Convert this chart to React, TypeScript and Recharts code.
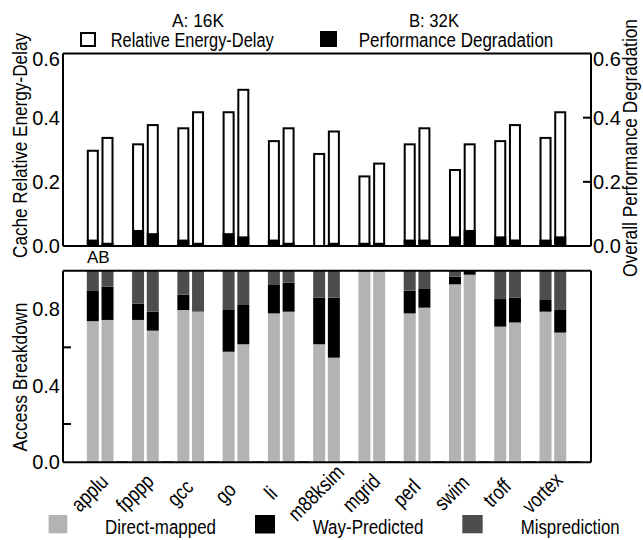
import React from 'react';
import { BarChart, Bar, XAxis, YAxis, ReferenceLine } from 'recharts';

const categories = ['applu', 'fpppp', 'gcc', 'go', 'li', 'm88ksim', 'mgrid', 'perl', 'swim', 'troff', 'vortex'];

// Top panel: relative energy-delay (A: 16K, B: 32K)
const energyA = [0.30, 0.32, 0.37, 0.42, 0.33, 0.29, 0.22, 0.32, 0.24, 0.33, 0.34];
const energyB = [0.34, 0.38, 0.42, 0.49, 0.37, 0.36, 0.26, 0.37, 0.32, 0.38, 0.42];
// Top panel: overall performance degradation
const perfA = [0.02, 0.05, 0.02, 0.04, 0.02, 0.0, 0.01, 0.02, 0.03, 0.03, 0.02];
const perfB = [0.01, 0.04, 0.01, 0.03, 0.01, 0.01, 0.01, 0.02, 0.05, 0.02, 0.03];

// Bottom panel: access breakdown
const directA = [0.737, 0.743, 0.795, 0.577, 0.777, 0.616, 0.995, 0.777, 0.929, 0.708, 0.786];
const wayA = [0.157, 0.085, 0.080, 0.218, 0.152, 0.243, 0.0, 0.119, 0.040, 0.144, 0.061];
const mispA = [0.106, 0.172, 0.125, 0.205, 0.071, 0.141, 0.005, 0.104, 0.031, 0.148, 0.153];
const directB = [0.743, 0.687, 0.786, 0.616, 0.786, 0.546, 0.995, 0.807, 0.979, 0.729, 0.677];
const wayB = [0.174, 0.099, 0.0, 0.205, 0.151, 0.313, 0.0, 0.101, 0.021, 0.130, 0.118];
const mispB = [0.083, 0.214, 0.214, 0.179, 0.063, 0.141, 0.005, 0.092, 0.0, 0.141, 0.205];
// empty third slot drawn as a hairline at zero
const emptySlot = [0.006, 0.006, 0.006, 0.006, 0.006, 0.006, 0.006, 0.006, 0.006, 0.006, 0.006];

const topTicks = [0, 0.2, 0.4, 0.6];
const bottomTicks = [0, 0.2, 0.4, 0.6, 0.8, 1.0];
const bottomLabeled = [0, 0.4, 0.8];

const topData = categories.map((name, i) => ({
  name,
  eA: energyA[i],
  eB: energyB[i],
  pA: perfA[i],
  pB: perfB[i],
}));

const bottomData = categories.map((name, i) => ({
  name,
  dA: directA[i],
  wA: wayA[i],
  mA: mispA[i],
  dB: directB[i],
  wB: wayB[i],
  mB: mispB[i],
  gap: emptySlot[i],
}));

const REG = "'Liberation Sans', Arial, Helvetica, sans-serif";

const LIGHT = '#b3b3b3';
const DARK = '#4d4d4d';

const near = (arr: number[], v: number) => arr.some((a) => Math.abs(a - v) < 1e-6);

function makeYTick(side: 'left' | 'right', margin: number, labeled: number[], inward: number[], maxVal: number) {
  return (props: any) => {
    const { x, y, payload } = props;
    const v = Number(payload.value);
    const axisX = side === 'left' ? x + margin : x - margin;
    const showLabel = near(labeled, v);
    const showTick = near(inward, v);
    return (
      <g>
        {showTick && (
          <line
            x1={axisX}
            x2={side === 'left' ? axisX + 8 : axisX - 8}
            y1={y}
            y2={y}
            stroke="#000"
            strokeWidth={2}
          />
        )}
        {showLabel && (
          <text
            x={x}
            y={y}
            dy={Math.abs(v - maxVal) < 1e-6 ? 12 : 7}
            textAnchor={side === 'left' ? 'end' : 'start'}
            fontFamily={REG}
            fontSize={20}
            fill="#000"
          >
            {v.toFixed(1)}
          </text>
        )}
      </g>
    );
  };
}

const TopLeftTick = makeYTick('left', 3, topTicks, [], 0.6);
const TopRightTick = makeYTick('right', 2, topTicks, [0.2, 0.4], 0.6);
const BottomLeftTick = makeYTick('left', 3, bottomLabeled, [0.2, 0.6], 99);
const BottomRightTick = makeYTick('right', 2, [], [0.2, 0.4, 0.6, 0.8], 99);

function XTickEl(props: any) {
  const { x, y, payload } = props;
  if (x == null || y == null || !payload) return null;
  const px = Number(x) - 13;
  const py = Number(y);
  return (
    <g transform={`translate(${px} ${py})`}>
      <g transform="rotate(-45)">
        <text x={0} y={0} transform="scale(0.82 1)" textAnchor="middle" fontFamily={REG} fontSize={21} fill="#000">
          {payload.value}
        </text>
      </g>
    </g>
  );
}

const OutlineBar = (props: any) => {
  const { x, y, width, height } = props;
  if (!height || height <= 0) return null;
  return (
    <rect
      x={x + 1}
      y={y + 1}
      width={Math.max(width - 2, 0)}
      height={Math.max(height - 1, 0)}
      fill="#fff"
      stroke="#000"
      strokeWidth={2}
    />
  );
};

const PAD = { left: 22, right: 8 };

const Narrow = (p: { x: number; y: number; len: number; size?: number; children: string; anchor?: 'start' | 'middle' }) => (
  <text
    x={p.x}
    y={p.y}
    fontSize={p.size ?? 20}
    textLength={p.len}
    lengthAdjust="spacingAndGlyphs"
    textAnchor={p.anchor ?? 'start'}
  >
    {p.children}
  </text>
);

export default function App() {
  return (
    <div style={{ position: 'absolute', left: 0, top: 0, width: 643, height: 540, background: '#fff' }}>
      <div style={{ position: 'absolute', left: 0, top: 0 }}>
        <BarChart
          width={643}
          height={262}
          data={topData}
          margin={{ top: 53.5, right: 0, bottom: 16, left: 0 }}
          barCategoryGap={1.8}
          barGap={2.7}
        >
          <XAxis dataKey="name" xAxisId="a" hide padding={PAD} />
          <XAxis dataKey="name" xAxisId="b" hide padding={PAD} />
          <YAxis
            yAxisId="l"
            orientation="left"
            width={63}
            domain={[0, 0.6]}
            ticks={topTicks}
            interval={0}
            tickSize={0}
            tickMargin={3}
            tickLine={false}
            axisLine={{ stroke: '#000', strokeWidth: 2 }}
            tick={TopLeftTick}
          />
          <YAxis
            yAxisId="r"
            orientation="right"
            width={52}
            domain={[0, 0.6]}
            ticks={topTicks}
            interval={0}
            tickSize={0}
            tickMargin={2}
            tickLine={false}
            axisLine={{ stroke: '#000', strokeWidth: 2 }}
            tick={TopRightTick}
          />
          <Bar xAxisId="a" yAxisId="l" dataKey="eA" shape={OutlineBar} isAnimationActive={false} />
          <Bar xAxisId="a" yAxisId="l" dataKey="eB" shape={OutlineBar} isAnimationActive={false} />
          <Bar xAxisId="a" yAxisId="l" dataKey="slot" fill="none" isAnimationActive={false} />
          <Bar xAxisId="b" yAxisId="r" dataKey="pA" fill="#000" isAnimationActive={false} />
          <Bar xAxisId="b" yAxisId="r" dataKey="pB" fill="#000" isAnimationActive={false} />
          <Bar xAxisId="b" yAxisId="r" dataKey="slot" fill="none" isAnimationActive={false} />
          <ReferenceLine xAxisId="a" yAxisId="l" y={0} stroke="#000" strokeWidth={2} />
          <ReferenceLine xAxisId="a" yAxisId="l" y={0.6} stroke="#000" strokeWidth={2} />
        </BarChart>
      </div>
      <div style={{ position: 'absolute', left: 0, top: 262 }}>
        <BarChart
          width={643}
          height={278}
          data={bottomData}
          margin={{ top: 8.7, right: 0, bottom: 0, left: 0 }}
          barCategoryGap={1.8}
          barGap={2.7}
        >
          <XAxis
            dataKey="name"
            height={77.7}
            padding={PAD}
            interval={0}
            tickSize={0}
            tickMargin={35.7}
            tickLine={false}
            axisLine={{ stroke: '#000', strokeWidth: 2 }}
            tick={<XTickEl />}
          />
          <YAxis
            orientation="left"
            width={63}
            domain={[0, 1]}
            ticks={bottomTicks}
            interval={0}
            tickSize={0}
            tickMargin={3}
            tickLine={false}
            axisLine={{ stroke: '#000', strokeWidth: 2 }}
            tick={BottomLeftTick}
          />
          <YAxis
            yAxisId="r"
            orientation="right"
            width={52}
            domain={[0, 1]}
            ticks={bottomTicks}
            interval={0}
            tickSize={0}
            tickMargin={2}
            tickLine={false}
            axisLine={{ stroke: '#000', strokeWidth: 2 }}
            tick={BottomRightTick}
          />
          <Bar stackId="A" dataKey="dA" fill={LIGHT} isAnimationActive={false} />
          <Bar stackId="A" dataKey="wA" fill="#000" isAnimationActive={false} />
          <Bar stackId="A" dataKey="mA" fill={DARK} isAnimationActive={false} />
          <Bar stackId="B" dataKey="dB" fill={LIGHT} isAnimationActive={false} />
          <Bar stackId="B" dataKey="wB" fill="#000" isAnimationActive={false} />
          <Bar stackId="B" dataKey="mB" fill={DARK} isAnimationActive={false} />
          <Bar dataKey="gap" fill="#555" isAnimationActive={false} />
          <ReferenceLine y={1} stroke="#000" strokeWidth={2} />
        </BarChart>
      </div>
      <svg
        width={643}
        height={540}
        style={{ position: 'absolute', left: 0, top: 0, pointerEvents: 'none' }}
      >
        <g fontFamily={REG} fill="#000">
          <Narrow x={198} y={26.5} len={52} size={19} anchor="middle">A: 16K</Narrow>
          <Narrow x={434} y={26.5} len={50} size={19} anchor="middle">B: 32K</Narrow>
          <rect x={81} y={33} width={14} height={13} fill="#fff" stroke="#000" strokeWidth={2} />
          <Narrow x={110.7} y={46.7} len={163}>Relative Energy-Delay</Narrow>
          <rect x={320} y={31} width={17} height={16} fill="#000" />
          <Narrow x={358.7} y={47} len={194.6}>Performance Degradation</Narrow>
          <g transform="rotate(-90 27 145.5)">
            <Narrow x={27} y={145.5} len={225} size={21} anchor="middle">Cache Relative Energy-Delay</Narrow>
          </g>
          <g transform="rotate(-90 27 377)">
            <Narrow x={27} y={377} len={149} size={21} anchor="middle">Access Breakdown</Narrow>
          </g>
          <g transform="rotate(-90 637 148)">
            <Narrow x={637} y={148} len={258} size={21} anchor="middle">Overall Performance Degradation</Narrow>
          </g>
          <text x={87} y={263.3} fontSize={17}>AB</text>
          <rect x={48.6} y={515} width={18.7} height={18.3} fill={LIGHT} />
          <Narrow x={105} y={533.5} len={111}>Direct-mapped</Narrow>
          <rect x={255} y={515} width={20} height={18.5} fill="#000" />
          <Narrow x={312.7} y={533.5} len={110.7}>Way-Predicted</Narrow>
          <rect x={462.3} y={515} width={20.4} height={18.3} fill={DARK} />
          <Narrow x={520.7} y={533.5} len={99}>Misprediction</Narrow>
        </g>
      </svg>
    </div>
  );
}
